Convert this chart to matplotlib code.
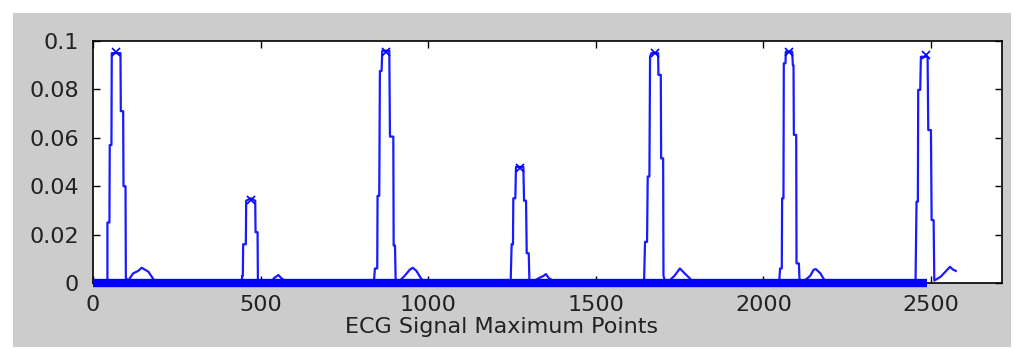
import matplotlib
matplotlib.use('Agg')
import matplotlib.pyplot as plt
from matplotlib.patches import Rectangle

# ECG trace (sample index, amplitude)
beat1_x = [0, 43, 43, 49, 50, 55, 56, 82, 83, 90, 91, 97, 98, 105, 120, 135, 145, 165, 183, 186]
beat1_y = [0, 0, .025, .025, .057, .057, .095, .095, .071, .071, .040, .040, .002, .001, .004, .005, .0063, .0047, .001, 0]

beat2_x = [444, 445, 447, 448, 456, 457, 471, 484, 485, 491, 492, 530, 540, 553, 562, 572, 576]
beat2_y = [0, .003, .003, .016, .016, .034, .035, .034, .021, .021, 0, 0, .002, .0033, .002, .001, 0]

beat3_x = [838, 841, 848, 849, 854, 856, 861, 863, 884, 886, 896, 897, 901, 903, 916, 930, 945, 954, 965, 978, 985, 988]
beat3_y = [0, .006, .006, .036, .036, .0876, .0876, .096, .096, .0605, .0605, .0155, .0155, .001,
           .001, .003, .0055, .0063, .005, .002, .001, 0]

beat4_x = [1246, 1249, 1253, 1254, 1260, 1262, 1284, 1286, 1292, 1294, 1300, 1302, 1318, 1330, 1345, 1351, 1360, 1372, 1375]
beat4_y = [0, .016, .016, .035, .035, .048, .048, .034, .034, .0123, .0123, .001, .001, .002, .003, .0037, .002, .001, 0]

beat5_x = [1644, 1647, 1653, 1655, 1660, 1662, 1666, 1686, 1687, 1694, 1695, 1701, 1702, 1706, 1720, 1735, 1751, 1765, 1780, 1790]
beat5_y = [0, .017, .017, .044, .044, .0935, .095, .095, .086, .086, .0515, .0515, .003, .001, .001, .003, .006, .004, .002, 0]

beat6_x = [2047, 2050, 2055, 2056, 2060, 2061, 2066, 2067, 2086, 2088, 2090, 2091, 2098, 2099, 2106, 2108,
           2123, 2140, 2150, 2157, 2170, 2183, 2186]
beat6_y = [0, .006, .006, .035, .035, .0908, .0908, .0956, .0956, .09, .09, .0612, .0612, .0081, .0081, .001,
           .001, .003, .0055, .0057, .004, .001, 0]

beat7_x = [2454, 2457, 2461, 2462, 2468, 2470, 2490, 2492, 2500, 2502, 2508, 2510, 2529, 2557, 2565, 2574]
beat7_y = [0, .0336, .0336, .0798, .0798, .0935, .0935, .0632, .0632, .026, .026, .001, .0026, .0067, .0056, .005]

# detected maxima
peak_x = [69, 470, 874, 1274, 1677, 2076, 2484]
peak_y = [.0956, .0343, .0956, .0474, .0949, .0956, .0942]

# zero points drawn as a thick band
zero_x = [0, 2488]
zero_y = [0, 0]

xticks = [0, 500, 1000, 1500, 2000, 2500]
yticks = [0, 0.02, 0.04, 0.06, 0.08, 0.1]
yticklabels = ['0', '0.02', '0.04', '0.06', '0.08', '0.1']

fig = plt.figure(figsize=(10.24, 3.6), dpi=100, facecolor='white')
fig.patches.append(Rectangle((13 / 1024, 1 - 347 / 360), (1011 - 13) / 1024, (347 - 13) / 360,
                             transform=fig.transFigure, facecolor='#cccccc', edgecolor='none', zorder=-10))
ax = fig.add_axes([93 / 1024, 1 - 283 / 360, (1002 - 93) / 1024, (283 - 41) / 360])

ecg_x = beat1_x + beat2_x + beat3_x + beat4_x + beat5_x + beat6_x + beat7_x
ecg_y = beat1_y + beat2_y + beat3_y + beat4_y + beat5_y + beat6_y + beat7_y
ax.plot(ecg_x, ecg_y, color='#1a1aff', lw=1.6)
ax.plot(peak_x, peak_y, 'x', color='#0000ff', ms=6, mew=1.2)
ax.plot(zero_x, zero_y, color='#0000ff', lw=6, solid_capstyle='butt', clip_on=False, zorder=5)

ax.set_xlim(0, 2712)
ax.set_ylim(0, 0.1)
ax.set_xticks(xticks)
ax.set_yticks(yticks)
ax.set_yticklabels(yticklabels)
ax.tick_params(direction='in', top=True, right=True, length=5, width=1, labelsize=16, pad=8.5,
               labelcolor='#222222')
ax.tick_params(axis='y', pad=10)
for s in ax.spines.values():
    s.set_linewidth(1.2)
ax.set_xlabel('ECG Signal Maximum Points', fontsize=16, color='#222222')
ax.xaxis.set_label_coords(0.449, -0.182)
ax.xaxis.label.set_va('center')

fig.savefig('out.png', dpi=100, facecolor='white')
